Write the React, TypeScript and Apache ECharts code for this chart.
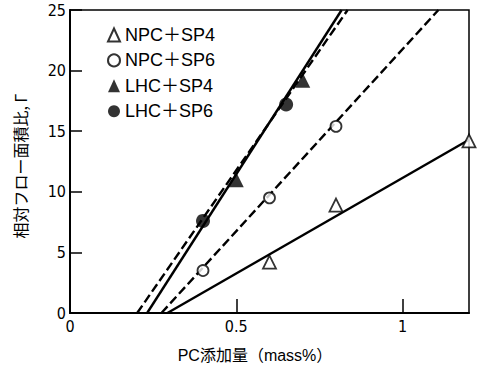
import React, { useEffect, useRef } from "react";
import * as echarts from "echarts";

const seriesNames = ["NPC＋SP4", "NPC＋SP6", "LHC＋SP4", "LHC＋SP6"];
const npcSp4 = [[0.6, 4.2], [0.8, 8.9], [1.2, 14.2]];
const npcSp6 = [[0.4, 3.5], [0.6, 9.5], [0.8, 15.4]];
const lhcSp4 = [[0.5, 11.0], [0.7, 19.2]];
const lhcSp6 = [[0.4, 7.6], [0.65, 17.2]];

const npcSp4Fit = [[0.293, 0], [1.2, 14.3]];
const npcSp6Fit = [[0.275, 0], [1.108, 25]];
const lhcSp4Fit = [[0.232, 0], [0.817, 25]];
const lhcSp6Fit = [[0.202, 0], [0.835, 25]];

const xTitle = "PC添加量（mass%）";
const yTitle = "相対フロー面積比, Γ";

const tickFont = "'Liberation Sans Narrow', 'DejaVu Sans Condensed', 'Liberation Sans', sans-serif";
const textFont = "'Liberation Sans', 'Noto Sans CJK JP', sans-serif";

export default function App() {
  const ref = useRef<HTMLDivElement>(null);
  useEffect(() => {
    if (!ref.current) return;
    const chart = echarts.init(ref.current, undefined, { renderer: "svg" });
    const fitLine = (data: number[][], dashed: boolean) => ({
      type: "line",
      data,
      symbol: "none",
      silent: true,
      z: 1,
      lineStyle: { color: "#000", width: 2.4, type: dashed ? [9, 4] : "solid" },
    });
    const openStyle = { color: "#fff", borderColor: "#000", borderWidth: 1.8 };
    const fillStyle = { color: "#000", borderWidth: 0 };
    chart.setOption({
      animation: false,
      backgroundColor: "#fff",
      grid: {
        left: 70,
        right: 10,
        top: 10,
        bottom: 56,
        show: true,
        borderColor: "#000",
        borderWidth: 1.5,
      },
      xAxis: {
        type: "value",
        min: 0,
        max: 1.2,
        interval: 0.5,
        splitLine: { show: false },
        axisLine: { lineStyle: { color: "#000", width: 2 } },
        axisTick: { inside: true, length: 14, lineStyle: { color: "#000", width: 1.5 } },
        axisLabel: {
          showMaxLabel: false,
          color: "#000",
          fontSize: 16,
          fontFamily: tickFont,
          margin: 5,
          formatter: (v: number) => String(v),
        },
      },
      yAxis: {
        type: "value",
        min: 0,
        max: 25,
        interval: 5,
        splitLine: { show: false },
        axisLine: { lineStyle: { color: "#000", width: 2 } },
        axisTick: { inside: true, length: 12, lineStyle: { color: "#000", width: 1.5 } },
        axisLabel: { color: "#000", fontSize: 16, fontFamily: tickFont, margin: 4 },
      },
      legend: {
        orient: "vertical",
        left: 107,
        top: 26,
        padding: 0,
        itemWidth: 12,
        itemHeight: 13,
        itemGap: 7.4,
        textStyle: {
          color: "#000",
          fontSize: 18,
          lineHeight: 14,
          fontFamily: textFont,
          padding: [0, 0, 0, 0],
        },
        data: seriesNames,
      },
      series: [
        fitLine(npcSp4Fit, false),
        fitLine(npcSp6Fit, true),
        fitLine(lhcSp4Fit, false),
        fitLine(lhcSp6Fit, true),
        {
          name: seriesNames[0],
          type: "scatter",
          data: npcSp4,
          symbol: "triangle",
          symbolSize: 13,
          itemStyle: openStyle,
          clip: false,
          z: 3,
        },
        {
          name: seriesNames[1],
          type: "scatter",
          data: npcSp6,
          symbol: "circle",
          symbolSize: 11,
          itemStyle: openStyle,
          clip: false,
          z: 3,
        },
        {
          name: seriesNames[2],
          type: "scatter",
          data: lhcSp4,
          symbol: "triangle",
          symbolSize: 15,
          itemStyle: fillStyle,
          clip: false,
          z: 3,
        },
        {
          name: seriesNames[3],
          type: "scatter",
          data: lhcSp6,
          symbol: "circle",
          symbolSize: 14,
          itemStyle: fillStyle,
          clip: false,
          z: 3,
        },
      ],
      graphic: [
        {
          type: "text",
          x: 255,
          y: 355,
          style: {
            text: xTitle,
            fill: "#000",
            fontSize: 16,
            fontFamily: textFont,
            textAlign: "center",
            textVerticalAlign: "middle",
          },
        },
        {
          type: "text",
          x: 20,
          y: 166,
          rotation: Math.PI / 2,
          style: {
            text: yTitle,
            fill: "#000",
            fontSize: 16,
            fontFamily: "'Noto Sans CJK JP', sans-serif",
            textAlign: "center",
            textVerticalAlign: "middle",
          },
        },
      ],
    });
    return () => chart.dispose();
  }, []);
  return (
    <div
      ref={ref}
      style={{ position: "absolute", left: 0, top: 0, width: 479, height: 369 }}
    />
  );
}
